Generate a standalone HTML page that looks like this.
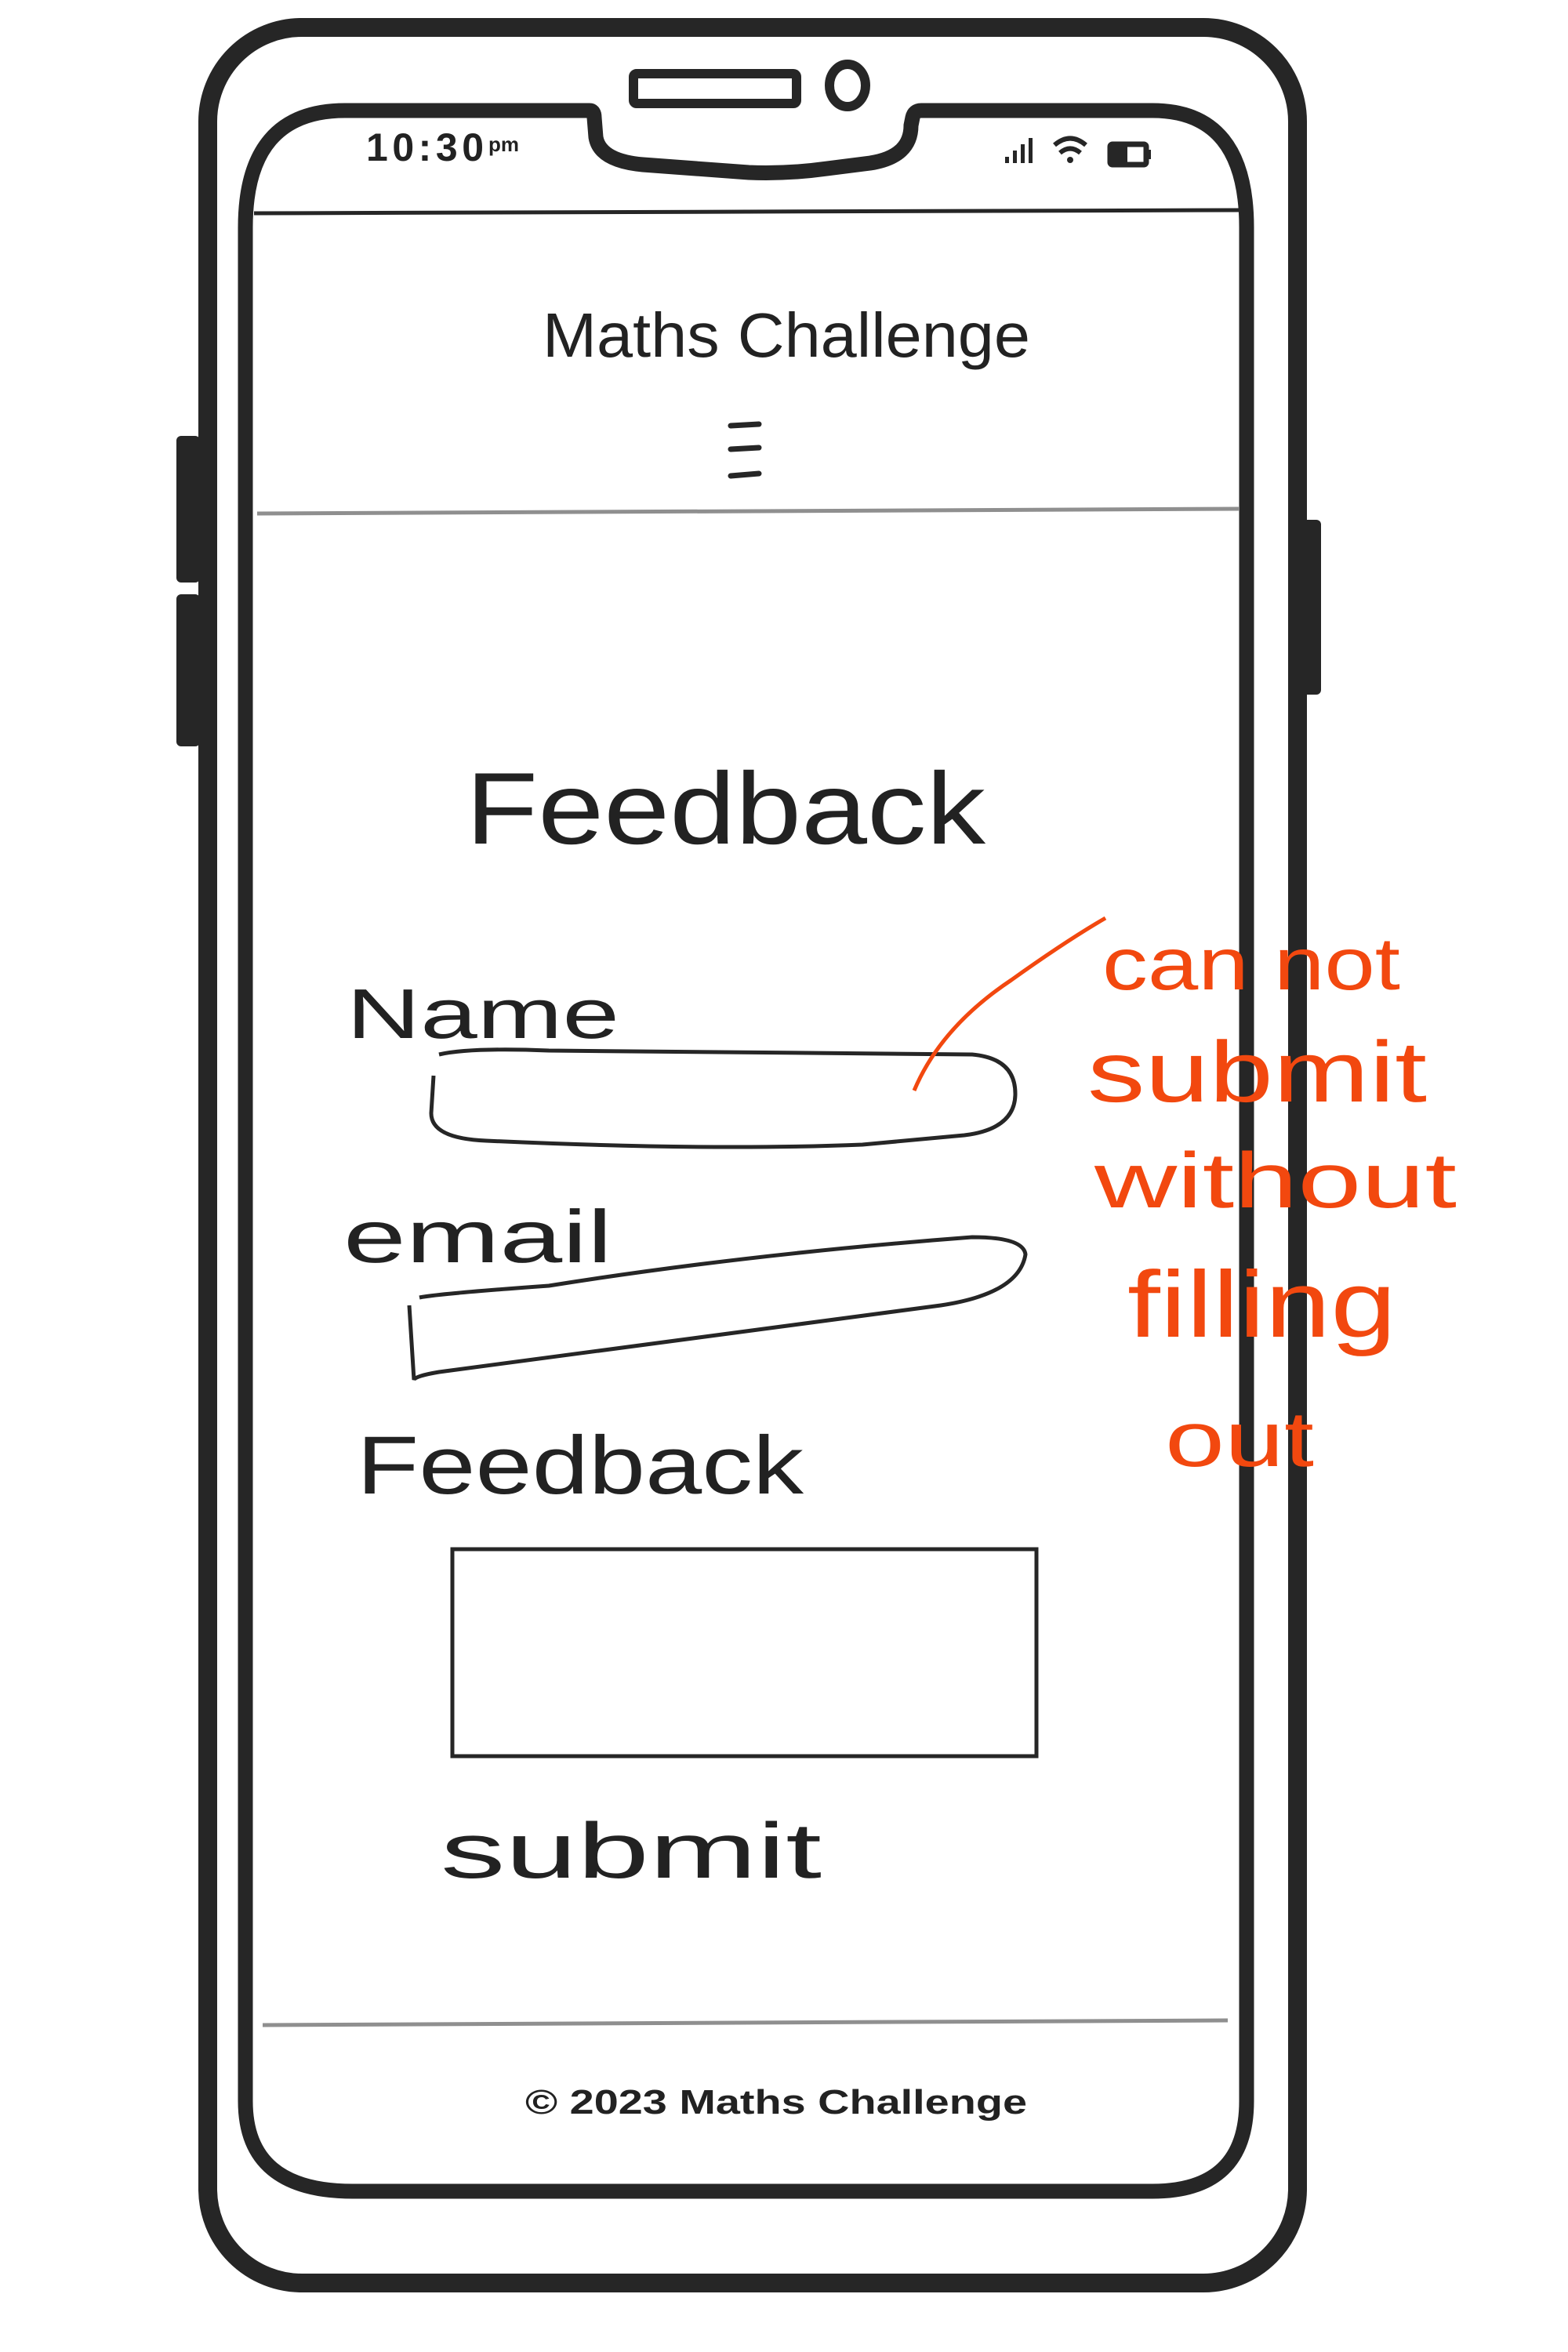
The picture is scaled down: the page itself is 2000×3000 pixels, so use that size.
<!DOCTYPE html>
<html><head><meta charset="utf-8"><style>
html,body{margin:0;padding:0;background:#fff}
svg{display:block}
text{font-family:"Liberation Sans",sans-serif;fill:#222}
</style></head><body>
<svg width="2000" height="3000" viewBox="0 0 2000 3000" xmlns="http://www.w3.org/2000/svg">
<rect width="2000" height="3000" fill="#fff"/>
<rect x="225" y="556" width="30" height="187" rx="6" fill="#262626"/>
<rect x="225" y="758" width="30" height="194" rx="6" fill="#262626"/>
<rect x="1657" y="663" width="28" height="223" rx="6" fill="#262626"/>
<rect x="265" y="35" width="1390" height="2877" rx="120" fill="#fff" stroke="#262626" stroke-width="24"/>
<path d="M440 141 L752 141 Q758 141 758 150 L760 175 Q765 205 820 210 L955 220 Q1005 222 1055 215 L1110 208 Q1162 200 1162 160 L1164 150 Q1166 141 1175 141 L1470 141 Q1590 141 1590 290 L1590 2680 Q1590 2795 1470 2795 L450 2795 Q313 2795 313 2680 L313 290 Q313 141 440 141 Z" fill="#fff" stroke="#262626" stroke-width="19"/>
<rect x="808" y="94" width="208" height="38" rx="4" fill="none" stroke="#262626" stroke-width="12"/>
<ellipse cx="1081" cy="109" rx="23" ry="27" fill="none" stroke="#262626" stroke-width="12"/>
<text x="467" y="205" font-size="50" font-weight="bold" textLength="150">10:30</text>
<text x="623" y="193" font-size="26" font-weight="bold">pm</text>
<g fill="#262626">
<rect x="1282" y="200" width="5" height="8"/><rect x="1292" y="192" width="5" height="16"/><rect x="1302" y="184" width="5" height="24"/><rect x="1312" y="176" width="5" height="32"/>
</g>
<path d="M1345 185 Q1365 168 1385 185 M1352 195 Q1365 184 1378 195" fill="none" stroke="#262626" stroke-width="6"/>
<circle cx="1365" cy="204" r="4" fill="#262626"/>
<rect x="1416" y="184" width="46" height="26" rx="3" fill="none" stroke="#262626" stroke-width="7"/>
<rect x="1418" y="186" width="20" height="22" fill="#262626"/>
<rect x="1462" y="191" width="6" height="12" fill="#262626"/>
<line x1="324" y1="272" x2="1581" y2="268" stroke="#262626" stroke-width="5"/>
<text x="692" y="455" font-size="80" textLength="622" lengthAdjust="spacingAndGlyphs">Maths Challenge</text>
<g stroke="#262626" stroke-width="7" stroke-linecap="round">
<line x1="932" y1="543" x2="968" y2="541"/><line x1="932" y1="573" x2="968" y2="571"/><line x1="932" y1="607" x2="968" y2="604"/>
</g>
<line x1="328" y1="655" x2="1581" y2="649" stroke="#8f8f8f" stroke-width="5"/>
<text x="594" y="1076" font-size="130" textLength="663" lengthAdjust="spacingAndGlyphs">Feedback</text>
<text x="442" y="1324" font-size="90" textLength="348" lengthAdjust="spacingAndGlyphs">Name</text>
<path d="M560 1345 Q600 1336 700 1340 L1240 1345 Q1295 1350 1295 1395 Q1295 1440 1230 1448 L1100 1460 Q900 1468 620 1455 Q550 1452 550 1420 L553 1372" fill="none" stroke="#262626" stroke-width="5"/>
<text x="438" y="1610" font-size="95" textLength="343" lengthAdjust="spacingAndGlyphs">email</text>
<path d="M535 1655 Q560 1650 700 1640 Q950 1600 1240 1578 Q1305 1578 1308 1600 Q1300 1650 1200 1665 Q900 1705 560 1750 Q530 1755 528 1760 L522 1665" fill="none" stroke="#262626" stroke-width="5"/>
<text x="455" y="1905" font-size="105" textLength="570" lengthAdjust="spacingAndGlyphs">Feedback</text>
<rect x="577" y="1976" width="745" height="264" fill="none" stroke="#262626" stroke-width="5"/>
<text x="562" y="2395" font-size="100" textLength="486" lengthAdjust="spacingAndGlyphs">submit</text>
<line x1="335" y1="2583" x2="1566" y2="2577" stroke="#8f8f8f" stroke-width="5"/>
<text x="670" y="2696" font-size="44" font-weight="bold" textLength="640" lengthAdjust="spacingAndGlyphs">© 2023   Maths Challenge</text>
<path d="M1166 1391 Q1200 1310 1290 1250 Q1360 1200 1410 1171" fill="none" stroke="#f2480f" stroke-width="5"/>
<text x="1406" y="1262" font-size="95" style="fill:#f2480f" textLength="380" lengthAdjust="spacingAndGlyphs">can not</text>
<text x="1387" y="1405" font-size="110" style="fill:#f2480f" textLength="433" lengthAdjust="spacingAndGlyphs">submit</text>
<text x="1396" y="1540" font-size="100" style="fill:#f2480f" textLength="462" lengthAdjust="spacingAndGlyphs">without</text>
<text x="1438" y="1705" font-size="120" style="fill:#f2480f" textLength="343" lengthAdjust="spacingAndGlyphs">filling</text>
<text x="1486" y="1870" font-size="100" style="fill:#f2480f" textLength="190" lengthAdjust="spacingAndGlyphs">out</text>
</svg>
</body></html>
